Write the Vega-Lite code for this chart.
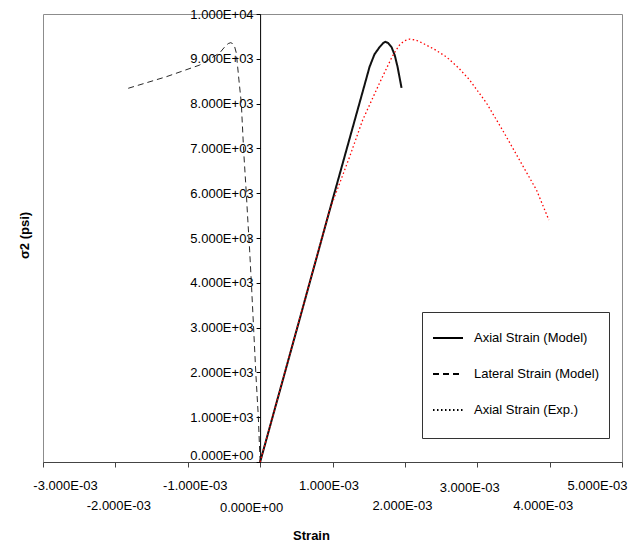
{
  "$schema": "https://vega.github.io/schema/vega-lite/v6.json",
  "autosize": "none",
  "padding": {"left": 43, "top": 14, "right": 21, "bottom": 83},
  "width": 579,
  "height": 448,
  "config": {
    "view": {"stroke": "#8c8c8c", "strokeWidth": 1},
    "font": "Liberation Sans"
  },
  "data": {
    "values": [
      {"series": "Axial Strain (Model)", "i": 0, "x": 0.0, "y": 0},
      {"series": "Axial Strain (Model)", "i": 1, "x": 0.0005, "y": 2920},
      {"series": "Axial Strain (Model)", "i": 2, "x": 0.001, "y": 5850},
      {"series": "Axial Strain (Model)", "i": 3, "x": 0.001416, "y": 8260},
      {"series": "Axial Strain (Model)", "i": 4, "x": 0.001512, "y": 8820},
      {"series": "Axial Strain (Model)", "i": 5, "x": 0.00158, "y": 9100},
      {"series": "Axial Strain (Model)", "i": 6, "x": 0.00165, "y": 9260},
      {"series": "Axial Strain (Model)", "i": 7, "x": 0.0017, "y": 9350},
      {"series": "Axial Strain (Model)", "i": 8, "x": 0.001733, "y": 9380},
      {"series": "Axial Strain (Model)", "i": 9, "x": 0.00177, "y": 9350},
      {"series": "Axial Strain (Model)", "i": 10, "x": 0.001816, "y": 9260},
      {"series": "Axial Strain (Model)", "i": 11, "x": 0.00186, "y": 9080},
      {"series": "Axial Strain (Model)", "i": 12, "x": 0.001899, "y": 8820},
      {"series": "Axial Strain (Model)", "i": 13, "x": 0.001954, "y": 8350},
      {"series": "Lateral Strain (Model)", "i": 0, "x": 0.0, "y": 0},
      {"series": "Lateral Strain (Model)", "i": 1, "x": -0.000025, "y": 1010},
      {"series": "Lateral Strain (Model)", "i": 2, "x": -0.00006, "y": 2000},
      {"series": "Lateral Strain (Model)", "i": 3, "x": -0.00009, "y": 2990},
      {"series": "Lateral Strain (Model)", "i": 4, "x": -0.000118, "y": 3900},
      {"series": "Lateral Strain (Model)", "i": 5, "x": -0.000145, "y": 4730},
      {"series": "Lateral Strain (Model)", "i": 6, "x": -0.00017, "y": 5400},
      {"series": "Lateral Strain (Model)", "i": 7, "x": -0.000191, "y": 6000},
      {"series": "Lateral Strain (Model)", "i": 8, "x": -0.000228, "y": 6960},
      {"series": "Lateral Strain (Model)", "i": 9, "x": -0.00026, "y": 8010},
      {"series": "Lateral Strain (Model)", "i": 10, "x": -0.000293, "y": 8530},
      {"series": "Lateral Strain (Model)", "i": 11, "x": -0.000329, "y": 9130},
      {"series": "Lateral Strain (Model)", "i": 12, "x": -0.000352, "y": 9270},
      {"series": "Lateral Strain (Model)", "i": 13, "x": -0.00038, "y": 9340},
      {"series": "Lateral Strain (Model)", "i": 14, "x": -0.000407, "y": 9360},
      {"series": "Lateral Strain (Model)", "i": 15, "x": -0.00044, "y": 9340},
      {"series": "Lateral Strain (Model)", "i": 16, "x": -0.000477, "y": 9290},
      {"series": "Lateral Strain (Model)", "i": 17, "x": -0.000559, "y": 9130},
      {"series": "Lateral Strain (Model)", "i": 18, "x": -0.000836, "y": 8860},
      {"series": "Lateral Strain (Model)", "i": 19, "x": -0.001296, "y": 8600},
      {"series": "Lateral Strain (Model)", "i": 20, "x": -0.001826, "y": 8340},
      {"series": "Axial Strain (Exp.)", "i": 0, "x": 0.0, "y": 0},
      {"series": "Axial Strain (Exp.)", "i": 1, "x": 0.00035, "y": 2050},
      {"series": "Axial Strain (Exp.)", "i": 2, "x": 0.0007, "y": 4100},
      {"series": "Axial Strain (Exp.)", "i": 3, "x": 0.00096, "y": 5625},
      {"series": "Axial Strain (Exp.)", "i": 4, "x": 0.001236, "y": 6810},
      {"series": "Axial Strain (Exp.)", "i": 5, "x": 0.001416, "y": 7630},
      {"series": "Axial Strain (Exp.)", "i": 6, "x": 0.00165, "y": 8460},
      {"series": "Axial Strain (Exp.)", "i": 7, "x": 0.001816, "y": 9020},
      {"series": "Axial Strain (Exp.)", "i": 8, "x": 0.001881, "y": 9200},
      {"series": "Axial Strain (Exp.)", "i": 9, "x": 0.001927, "y": 9310},
      {"series": "Axial Strain (Exp.)", "i": 10, "x": 0.00199, "y": 9400},
      {"series": "Axial Strain (Exp.)", "i": 11, "x": 0.002065, "y": 9440},
      {"series": "Axial Strain (Exp.)", "i": 12, "x": 0.00215, "y": 9420},
      {"series": "Axial Strain (Exp.)", "i": 13, "x": 0.002245, "y": 9350},
      {"series": "Axial Strain (Exp.)", "i": 14, "x": 0.00241, "y": 9210},
      {"series": "Axial Strain (Exp.)", "i": 15, "x": 0.002576, "y": 9040},
      {"series": "Axial Strain (Exp.)", "i": 16, "x": 0.00274, "y": 8800},
      {"series": "Axial Strain (Exp.)", "i": 17, "x": 0.002894, "y": 8530},
      {"series": "Axial Strain (Exp.)", "i": 18, "x": 0.003128, "y": 8010},
      {"series": "Axial Strain (Exp.)", "i": 19, "x": 0.003349, "y": 7410},
      {"series": "Axial Strain (Exp.)", "i": 20, "x": 0.003584, "y": 6740},
      {"series": "Axial Strain (Exp.)", "i": 21, "x": 0.003819, "y": 6070},
      {"series": "Axial Strain (Exp.)", "i": 22, "x": 0.00399, "y": 5400}
    ]
  },
  "mark": {"type": "line", "clip": true},
  "encoding": {
    "x": {
      "field": "x",
      "type": "quantitative",
      "scale": {"domain": [-0.003, 0.005], "nice": false, "zero": false},
      "axis": {
        "orient": "bottom",
        "values": [-0.003, -0.002, -0.001, 0, 0.001, 0.002, 0.003, 0.004, 0.005],
        "grid": false,
        "domainColor": "#444444",
        "tickColor": "#444444",
        "tickSize": 5,
        "labelFont": "Liberation Sans",
        "labelFontSize": 13,
        "labelColor": "black",
        "labelBaseline": "top",
        "labelAlign": "center",
        "labelFlush": false,
        "labelOverlap": false,
        "labelBound": false,
        "labelExpr": "(datum.value < 0 ? '-' : '') + replace(replace(format(abs(datum.value), '.3e'), 'e-', 'E-0'), 'e+', 'E+0')",
        "labelPadding": {"expr": "[12,32,12,34,12,32,14,32,12][round(datum.value*1000)+3]"},
        "labelOffset": {"expr": "[22,3,7,-9,-4,-3,-8,-7,-25][round(datum.value*1000)+3]"},
        "title": "Strain",
        "titleFont": "Liberation Sans",
        "titleFontSize": 13,
        "titleFontWeight": "bold",
        "titleColor": "black",
        "titleX": 268,
        "titleY": 73,
        "titleBaseline": "middle",
        "titleAlign": "center"
      }
    },
    "y": {
      "field": "y",
      "type": "quantitative",
      "scale": {"domain": [0, 10000], "nice": false},
      "axis": {
        "orient": "left",
        "offset": -217.1,
        "values": [0, 1000, 2000, 3000, 4000, 5000, 6000, 7000, 8000, 9000, 10000],
        "grid": false,
        "domainColor": "black",
        "tickColor": "black",
        "tickSize": 4,
        "labelPadding": 3,
        "labelFont": "Liberation Sans",
        "labelFontSize": 13,
        "labelColor": "black",
        "labelFlush": false,
        "labelOverlap": false,
        "labelBound": false,
        "labelExpr": "(datum.value < 0 ? '-' : '') + replace(replace(format(abs(datum.value), '.3e'), 'e-', 'E-0'), 'e+', 'E+0')",
        "labelOffset": {"expr": "datum.value == 0 ? -7 : 0"},
        "title": "σ2 (psi)",
        "titleFont": "Liberation Sans",
        "titleFontSize": 13,
        "titleFontWeight": "bold",
        "titleColor": "black",
        "titleAngle": -90,
        "titleX": -235.5,
        "titleY": 221,
        "titleAlign": "center",
        "titleBaseline": "middle"
      }
    },
    "order": {"field": "i", "type": "quantitative"},
    "stroke": {
      "condition": {"test": "datum.series == 'Axial Strain (Exp.)'", "value": "#ff0000"},
      "value": "#111111"
    },
    "strokeWidth": {
      "condition": [
        {"test": "datum.series == 'Axial Strain (Model)'", "value": 2},
        {"test": "datum.series == 'Axial Strain (Exp.)'", "value": 1.3}
      ],
      "value": 0.9
    },
    "strokeDash": {
      "field": "series",
      "type": "nominal",
      "scale": {
        "domain": ["Axial Strain (Model)", "Lateral Strain (Model)", "Axial Strain (Exp.)"],
        "range": [[1, 0], [6, 4], [1.5, 2.5]]
      },
      "legend": {
        "title": " ",
        "titleOrient": "bottom",
        "titleFontSize": 8,
        "titlePadding": 3,
        "orient": "none",
        "legendX": 379,
        "legendY": 298,
        "fillColor": "white",
        "strokeColor": "#333333",
        "padding": 10,
        "symbolType": "stroke",
        "symbolSize": 900,
        "symbolStrokeColor": "black",
        "symbolStrokeWidth": 2,
        "labelFont": "Liberation Sans",
        "labelFontSize": 13,
        "labelColor": "black",
        "labelOffset": 10,
        "rowPadding": 13,
        "labelLimit": 300
      }
    }
  }
}
